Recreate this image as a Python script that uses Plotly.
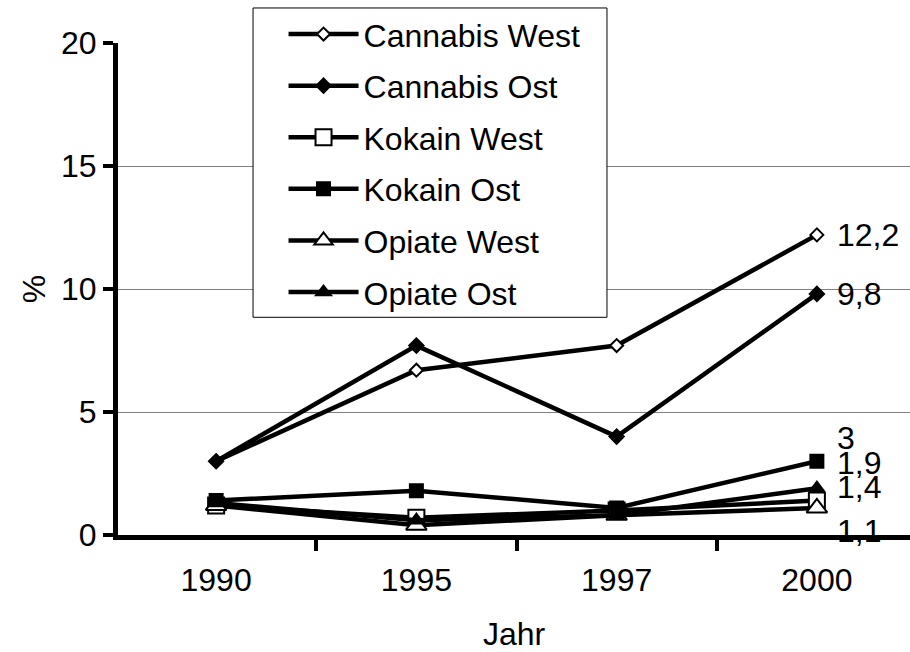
import plotly.graph_objects as go

years = ["1990", "1995", "1997", "2000"]
cannabis_west = [3.0, 6.7, 7.7, 12.2]
cannabis_ost = [3.0, 7.7, 4.0, 9.8]
kokain_west = [1.2, 0.7, 1.0, 1.4]
kokain_ost = [1.4, 1.8, 1.1, 3.0]
opiate_west = [1.2, 0.4, 0.8, 1.1]
opiate_ost = [1.3, 0.6, 0.8, 1.9]

series_names = ["Cannabis West", "Cannabis Ost", "Kokain West", "Kokain Ost", "Opiate West", "Opiate Ost"]
series_values = [cannabis_west, cannabis_ost, kokain_west, kokain_ost, opiate_west, opiate_ost]

# end labels (text, vertical offset in px)
end_labels = ["12,2", "9,8", "1,4", "3", "1,1", "1,9"]
label_shift = [0, 0, 14, 23, -23, 25]

FONT = "Liberation Sans, Arial, sans-serif"
FS = 32

styles = [
    dict(symbol="diamond", size=10, color="white"),
    dict(symbol="diamond", size=11, color="black"),
    dict(symbol="square", size=16, color="white"),
    dict(symbol="square", size=13, color="black"),
    dict(symbol="triangle-up", size=18, color="white"),
    dict(symbol="triangle-up", size=13, color="black"),
]

fig = go.Figure()
for i, (name, vals, st) in enumerate(zip(series_names, series_values, styles)):
    fig.add_trace(go.Scatter(
        x=years, y=vals, name=name, mode="lines+markers",
        legendgroup=f"g{i}",
        line=dict(color="black", width=4.5),
        marker=dict(symbol=st["symbol"], size=st["size"], color=st["color"],
                    line=dict(color="black", width=2)),
    ))

last_idx = len(years) - 1
for vals, txt, ys in zip(series_values, end_labels, label_shift):
    fig.add_annotation(x=last_idx, y=vals[-1], xref="x", yref="y", text=txt, showarrow=False,
                       xanchor="left", yanchor="middle", xshift=18, yshift=ys,
                       font=dict(family=FONT, size=FS, color="black"))

# legend frame (white box drawn over the plot, like the original)
fig.add_shape(type="rect", xref="paper", yref="paper",
              x0=0.1705, x1=0.6174, y0=0.4425, y1=1.0712,
              line=dict(color="black", width=1), fillcolor="white", layer="above")

fig.update_layout(
    template="none",
    width=910, height=652,
    margin=dict(l=118, r=0, t=43, b=117, pad=0),
    paper_bgcolor="white", plot_bgcolor="white",
    font=dict(family=FONT, size=FS, color="black"),
    showlegend=True,
    legend=dict(
        x=0.209, y=1.0737, xanchor="left", yanchor="top",
        bgcolor="rgba(0,0,0,0)", borderwidth=0,
        font=dict(family=FONT, size=FS, color="black"),
        itemwidth=70, tracegroupgap=7, traceorder="grouped",
    ),
    xaxis=dict(
        type="category", range=[-0.49, 3.465], automargin=False,
        tickson="boundaries", ticks="outside", ticklen=11, tickwidth=4, tickcolor="black",
        showline=True, linecolor="black", linewidth=5,
        showgrid=False, zeroline=False,
        tickfont=dict(family=FONT, size=FS), ticklabelstandoff=13,
        title=dict(text="Jahr", font=dict(family=FONT, size=FS), standoff=27),
    ),
    yaxis=dict(
        range=[0, 20], tickvals=[0, 5, 10, 15, 20], automargin=False,
        ticks="outside", ticklen=10, tickwidth=4, tickcolor="black",
        showline=True, linecolor="black", linewidth=5,
        showgrid=True, gridcolor="#808080", gridwidth=1,
        zeroline=False,
        tickfont=dict(family=FONT, size=FS),
        title=dict(text="%", font=dict(family=FONT, size=FS), standoff=7),
    ),
)

fig.write_html("out.html", config={"displayModeBar": False},
               post_script="document.body.style.margin='0';document.body.style.overflow='hidden';")
